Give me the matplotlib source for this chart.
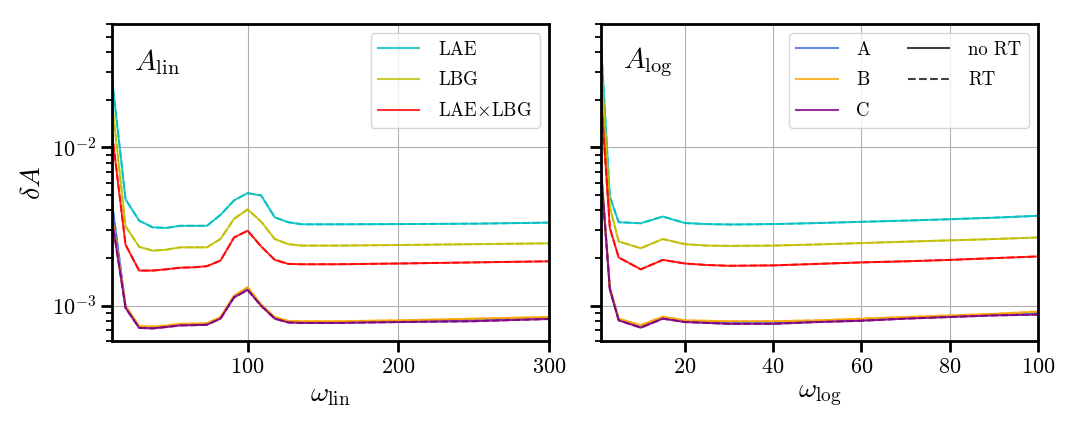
import matplotlib
matplotlib.use('Agg')
import matplotlib.pyplot as plt
from matplotlib.lines import Line2D

plt.rcParams['font.family'] = 'serif'
plt.rcParams['font.serif'] = ['cmr10']
plt.rcParams['mathtext.fontset'] = 'cm'
plt.rcParams['axes.formatter.use_mathtext'] = True

# linear binning
omega_lin = [10, 19, 28, 37, 46, 55, 64, 73, 82, 91, 100, 109, 118, 127, 136, 160, 200, 250, 300]
lae_lin = [0.027, 0.0047, 0.00345, 0.00313, 0.0031, 0.0032, 0.0032, 0.0032, 0.00375, 0.00463,
           0.00514, 0.00497, 0.00362, 0.00337, 0.00327, 0.00327, 0.00328, 0.0033, 0.00335]
lbg_lin = [0.019, 0.00318, 0.00236, 0.00223, 0.00226, 0.00234, 0.00234, 0.00234, 0.00264, 0.00354,
           0.00406, 0.0034, 0.00264, 0.00245, 0.0024, 0.0024, 0.00242, 0.00245, 0.00248]
cross_lin = [0.0123, 0.00243, 0.00167, 0.00167, 0.0017, 0.00174, 0.00175, 0.00178, 0.00193, 0.0027,
             0.00298, 0.00237, 0.00195, 0.00184, 0.00183, 0.00183, 0.00185, 0.00188, 0.00191]
a_lin = [0.0045, 0.00099, 0.000735, 0.00073, 0.000743, 0.00076, 0.000763, 0.000768, 0.00084, 0.00115,
         0.00129, 0.00101, 0.00084, 0.000795, 0.00079, 0.00079, 0.0008, 0.00082, 0.00084]
b_lin = [0.0037, 0.001, 0.000746, 0.00074, 0.000752, 0.00077, 0.000772, 0.000776, 0.00085, 0.00116,
         0.00131, 0.00102, 0.00085, 0.000804, 0.0008, 0.0008, 0.00081, 0.00083, 0.00085]
c_lin = [0.0035, 0.00097, 0.000726, 0.00072, 0.000735, 0.000752, 0.000755, 0.00076, 0.00083, 0.00113,
         0.00126, 0.001, 0.00083, 0.000785, 0.00078, 0.00078, 0.00079, 0.0008, 0.000826]

# log binning
omega_log = [1, 3, 5, 10, 15, 20, 25, 30, 40, 50, 60, 70, 80, 90, 100]
lae_log = [0.045, 0.0049, 0.00337, 0.00332, 0.00366, 0.00333, 0.00328, 0.00326, 0.00328, 0.00333,
           0.00339, 0.00345, 0.00352, 0.0036, 0.0037]
lbg_log = [0.035, 0.0042, 0.00255, 0.00231, 0.00264, 0.00245, 0.0024, 0.00239, 0.0024, 0.00244,
           0.00249, 0.00254, 0.00259, 0.00264, 0.0027]
cross_log = [0.021, 0.0031, 0.00202, 0.0017, 0.00195, 0.00185, 0.00181, 0.00179, 0.0018, 0.00184,
             0.00188, 0.00191, 0.00195, 0.002, 0.00205]
a_log = [0.0072, 0.00129, 0.00082, 0.00074, 0.000842, 0.0008, 0.000792, 0.000785, 0.000785, 0.0008,
         0.000817, 0.00084, 0.00086, 0.00088, 0.0009]
b_log = [0.0075, 0.00131, 0.00083, 0.000755, 0.000855, 0.00081, 0.000805, 0.0008, 0.0008, 0.00081,
         0.00083, 0.00085, 0.00087, 0.00089, 0.00092]
c_log = [0.007, 0.00127, 0.00081, 0.000728, 0.00083, 0.00079, 0.00078, 0.00077, 0.00077, 0.00079,
         0.000805, 0.00083, 0.00085, 0.00087, 0.00088]

tracer_colors = ['c', 'y', 'r']
tracer_labels = ['LAE', 'LBG', r'LAE$\times$LBG']
method_colors = ['royalblue', 'orange', 'purple']
method_labels = ['A', 'B', 'C']

fig = plt.figure(figsize=(10.8, 4.32), dpi=100)
ax1 = fig.add_axes([0.1037, 0.2106, 0.4046, 0.7338])
ax2 = fig.add_axes([0.5565, 0.2106, 0.4046, 0.7338], sharey=ax1)

def draw(ax, x, tracers, methods):
    for ys, col in zip(tracers + methods, tracer_colors + method_colors):
        ax.plot(x, ys, color=col, lw=1.4, ls='-', alpha=0.85)
        ax.plot(x, ys, color=col, lw=1.4, ls='--', alpha=0.85)

draw(ax1, omega_lin, [lae_lin, lbg_lin, cross_lin], [a_lin, b_lin, c_lin])
draw(ax2, omega_log, [lae_log, lbg_log, cross_log], [a_log, b_log, c_log])

ax1.set_yscale('log')
ax1.set_ylim(6e-4, 6e-2)
ax1.set_xlim(10, 300)
ax1.set_xticks([100, 200, 300])
ax2.set_xlim(1, 100)
ax2.set_xticks([20, 40, 60, 80, 100])
plt.setp(ax2.get_yticklabels(), visible=False)

for ax in (ax1, ax2):
    ax.grid(True, color='#b0b0b0', lw=0.8)
    for s in ax.spines.values():
        s.set_linewidth(2)
    ax.tick_params(which='major', length=8, width=2, labelsize=16)
    ax.tick_params(which='minor', length=4, width=1.3)

ax1.set_xlabel(r'$\omega_{\rm lin}$', fontsize=20)
ax2.set_xlabel(r'$\omega_{\rm log}$', fontsize=20)
ax1.set_ylabel(r'$\delta A$', fontsize=20)

ax1.text(0.05, 0.88, r'$A_{\rm lin}$', transform=ax1.transAxes, fontsize=21, va='center')
ax2.text(0.05, 0.88, r'$A_{\rm log}$', transform=ax2.transAxes, fontsize=21, va='center')

h1 = [Line2D([], [], color=c, lw=1.5, alpha=0.8) for c in tracer_colors]
ax1.legend(h1, tracer_labels, loc='upper right', fontsize=13.5, labelspacing=0.68,
           handlelength=2.2, handletextpad=1.0)

h2 = [Line2D([], [], color=c, lw=1.5, alpha=0.8) for c in method_colors]
h2 += [Line2D([], [], color='k', lw=1.5, alpha=0.75),
       Line2D([], [], color='k', lw=1.5, ls='--', alpha=0.75),
       Line2D([], [], color='none')]
ax2.legend(h2, method_labels + ['no RT', 'RT', ''], loc='upper right', ncol=2, fontsize=13.5,
           labelspacing=0.68, handlelength=2.2, handletextpad=1.0)

plt.savefig('out.png', dpi=100)
